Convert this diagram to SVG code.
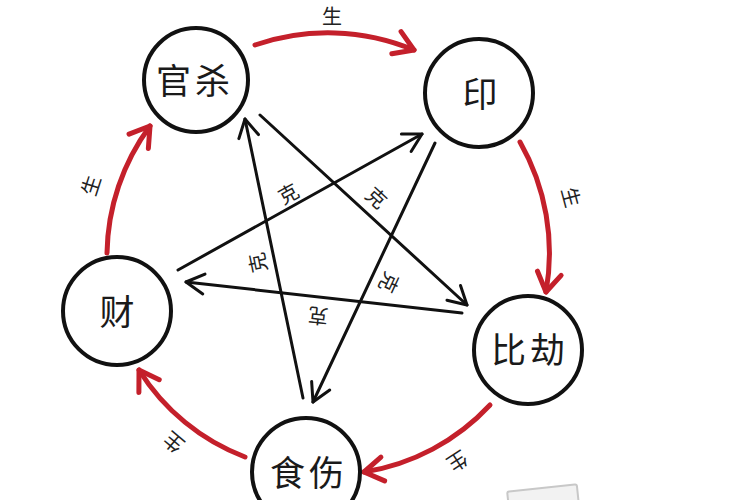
<svg xmlns="http://www.w3.org/2000/svg" width="750" height="500" viewBox="0 0 750 500">
<style>
.node circle{fill:#fff;stroke:#111;stroke-width:4}
.node text{font-family:"Noto Sans CJK SC","Noto Sans CJK JP",sans-serif;font-size:35px;fill:#1a1a1a;text-anchor:middle}
.sheng{fill:none;stroke:#c4202b;stroke-width:5;stroke-linecap:round}
.ke{fill:none;stroke:#111;stroke-width:3;stroke-linecap:round}
.lbl{font-family:"Noto Sans CJK SC","Noto Sans CJK JP",sans-serif;font-size:20px;fill:#222;text-anchor:middle;dominant-baseline:central}
</style>
<defs>
<marker id="redHead" markerUnits="userSpaceOnUse" viewBox="-25 -16 30 32" markerWidth="30" markerHeight="32" refX="0" refY="0" orient="auto" overflow="visible">
<path d="M-19,-12 L0,0 L-19,12" fill="none" stroke="#c4202b" stroke-width="5" stroke-linecap="round" stroke-linejoin="round"/>
</marker>
<marker id="blackHead" markerUnits="userSpaceOnUse" viewBox="-22 -12 26 24" markerWidth="26" markerHeight="24" refX="0" refY="0" orient="auto" overflow="visible">
<path d="M-18,-10 L0,0 L-18,10" fill="none" stroke="#111" stroke-width="3" stroke-linecap="round" stroke-linejoin="round"/>
</marker>
</defs>
<rect width="750" height="500" fill="#fff"/>
<g id="connectors">
<path class="sheng" d="M255,45 A224,224 0 0 1 414,50" marker-end="url(#redHead)"/>
<path class="sheng" d="M520,142 A224,224 0 0 1 546,292" marker-end="url(#redHead)"/>
<path class="sheng" d="M490,405 A218,218 0 0 1 364,472" marker-end="url(#redHead)"/>
<path class="sheng" d="M245,457 A215,215 0 0 1 139,370" marker-end="url(#redHead)"/>
<path class="sheng" d="M107,253 A220,220 0 0 1 150,126" marker-end="url(#redHead)"/>
<line class="ke" x1="260" y1="115" x2="467" y2="305" marker-end="url(#blackHead)"/>
<line class="ke" x1="462" y1="313" x2="186" y2="282" marker-end="url(#blackHead)"/>
<line class="ke" x1="178" y1="270" x2="422" y2="134" marker-end="url(#blackHead)"/>
<line class="ke" x1="435" y1="143" x2="313" y2="402" marker-end="url(#blackHead)"/>
<line class="ke" x1="303" y1="398" x2="245" y2="119" marker-end="url(#blackHead)"/>
<text class="lbl" x="332" y="15">生</text>
<text class="lbl" transform="translate(572,197) rotate(75)">生</text>
<text class="lbl" transform="translate(458,462) rotate(147)">生</text>
<text class="lbl" transform="translate(173,443) rotate(-140)">生</text>
<text class="lbl" transform="translate(90,185) rotate(-72)">生</text>
<text class="lbl" font-size="22" transform="translate(288,193) rotate(-29)">克</text>
<text class="lbl" font-size="22" transform="translate(377,197) rotate(42.5)">克</text>
<text class="lbl" font-size="22" transform="translate(257,263) rotate(-101.8)">克</text>
<text class="lbl" font-size="22" transform="translate(390,283) rotate(115)">克</text>
<text class="lbl" font-size="22" transform="translate(318,317) rotate(186.4)">克</text>
</g>
<g id="guansha" class="node"><circle cx="196" cy="80" r="52"/><text x="195" y="94" letter-spacing="4">官杀</text></g>
<g id="yin" class="node"><circle cx="479" cy="93" r="54"/><text x="480" y="107">印</text></g>
<g id="bijie" class="node"><circle cx="528" cy="350" r="54"/><text x="530" y="363" letter-spacing="4">比劫</text></g>
<g id="shishang" class="node"><circle cx="306" cy="472" r="54"/><text x="309" y="486" letter-spacing="4">食伤</text></g>
<g id="cai" class="node"><circle cx="117" cy="311" r="54"/><text x="117" y="325">财</text></g>
<rect x="508" y="488" width="70" height="20" rx="2" fill="#f2f2f2" stroke="#c8c8c8" stroke-width="2" transform="rotate(-6 543 498)"/>
</svg>
